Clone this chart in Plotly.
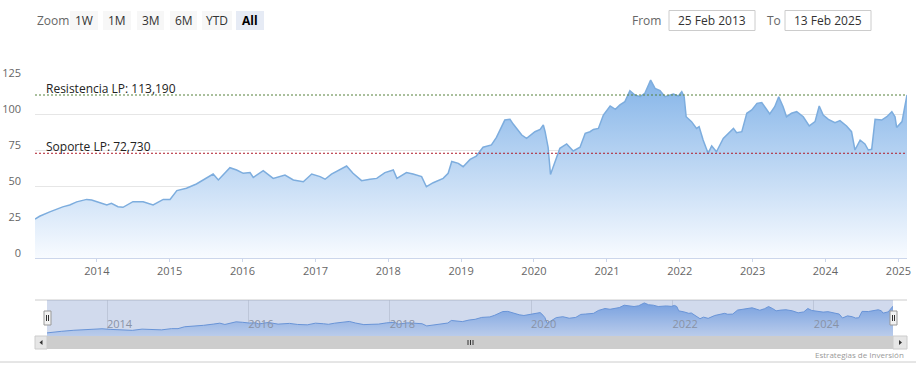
import plotly.graph_objects as go

W, H = 916, 375

# ---------------- data ----------------
dates = [
    "2013-02-25", "2013-03-20", "2013-05-10", "2013-07-14", "2013-08-18", "2013-09-22",
    "2013-11-11", "2013-12-06", "2014-01-17", "2014-02-20", "2014-03-15", "2014-04-17",
    "2014-05-12", "2014-07-01", "2014-08-21", "2014-10-10", "2014-11-30", "2015-01-03",
    "2015-02-06", "2015-03-26", "2015-05-15", "2015-07-04", "2015-08-07", "2015-09-02",
    "2015-09-27", "2015-10-30", "2015-12-03", "2016-01-05", "2016-02-08", "2016-02-24",
    "2016-04-14", "2016-06-03", "2016-08-01", "2016-09-12", "2016-11-01", "2016-12-13",
    "2017-01-24", "2017-02-18", "2017-03-22", "2017-05-03", "2017-06-06", "2017-07-08",
    "2017-08-20", "2017-10-01", "2017-11-04", "2017-12-15", "2018-01-26", "2018-02-13",
    "2018-04-02", "2018-05-05", "2018-06-17", "2018-07-11", "2018-08-14", "2018-10-03",
    "2018-10-28", "2018-11-15", "2018-12-18", "2019-01-11", "2019-02-15", "2019-03-18",
    "2019-04-21", "2019-06-02", "2019-06-27", "2019-08-08", "2019-09-03", "2019-09-19",
    "2019-11-01", "2019-11-25", "2020-01-06", "2020-02-01", "2020-02-17", "2020-02-26",
    "2020-03-12", "2020-03-24", "2020-04-15", "2020-05-10", "2020-06-13", "2020-07-16",
    "2020-08-19", "2020-09-14", "2020-10-08", "2020-10-25", "2020-11-19", "2020-12-14",
    "2021-01-17", "2021-02-12", "2021-03-07", "2021-04-01", "2021-04-26", "2021-05-21",
    "2021-06-16", "2021-07-10", "2021-08-08", "2021-08-30", "2021-09-24", "2021-10-19",
    "2021-11-30", "2021-12-25", "2022-01-11", "2022-01-23", "2022-02-02", "2022-03-01",
    "2022-03-26", "2022-04-08", "2022-04-28", "2022-05-23", "2022-06-10", "2022-07-04",
    "2022-08-07", "2022-09-02", "2022-09-27", "2022-10-13", "2022-11-08", "2022-12-03",
    "2022-12-28", "2023-01-23", "2023-02-16", "2023-03-08", "2023-03-28", "2023-04-22",
    "2023-05-12", "2023-06-03", "2023-06-20", "2023-07-15", "2023-08-10", "2023-09-12",
    "2023-10-12", "2023-11-10", "2023-12-01", "2023-12-21", "2024-01-16", "2024-02-18",
    "2024-03-14", "2024-04-16", "2024-05-11", "2024-05-28", "2024-06-23", "2024-07-17",
    "2024-08-03", "2024-08-20", "2024-09-06", "2024-10-09", "2024-11-04", "2024-11-29",
    "2024-12-15", "2024-12-23", "2025-01-19", "2025-02-13",
]
values = [
    27.0, 29.0, 32.0, 35.5, 36.8, 39.0,
    40.7, 40.3, 38.4, 36.8, 38.0, 35.6,
    35.2, 39.1, 39.1, 36.8, 40.7, 40.7,
    46.8, 48.4, 51.4, 55.3, 58.3, 54.2,
    57.6, 62.7, 61.1, 58.8, 59.3, 56.0,
    60.6, 55.3, 57.6, 54.2, 53.0, 58.3,
    56.5, 54.7, 58.3, 61.1, 63.9, 58.8,
    53.7, 54.7, 55.3, 59.3, 61.1, 55.3,
    59.3, 58.3, 56.5, 49.5, 52.3, 55.3,
    58.8, 67.0, 65.7, 63.4, 68.5, 70.8,
    76.9, 78.5, 83.8, 95.8, 96.3, 93.0,
    85.4, 83.1, 87.7, 89.3, 92.4, 87.7,
    76.9, 58.0, 66.9, 76.2, 79.2, 74.3,
    76.9, 86.6, 87.7, 89.3, 90.0, 99.3,
    105.6, 103.2, 106.3, 108.6, 116.2, 113.2,
    112.0, 114.4, 123.6, 117.8, 116.2, 112.0,
    113.9, 112.5, 115.5, 112.0, 98.1, 94.7,
    90.0, 91.2, 81.9, 72.7, 77.8, 73.8,
    83.1, 86.6, 90.0, 87.0, 87.7, 100.5,
    102.8, 107.4, 107.9, 104.0, 100.0, 105.1,
    112.0, 105.1, 98.1, 100.5, 101.6, 98.1,
    91.7, 94.7, 105.6, 99.3, 96.3, 94.0,
    95.4, 91.7, 87.7, 75.0, 81.9, 79.2,
    75.0, 75.5, 96.3, 95.8, 98.1, 101.6,
    98.1, 90.7, 94.7, 113.19,
]

resistance = 113.19
support = 72.73
resistance_label = "Resistencia LP: 113,190"
support_label = "Soporte LP: 72,730"
y_ticks = [0, 25, 50, 75, 100, 125]
zoom_buttons = ["1W", "1M", "3M", "6M", "YTD", "All"]
selected_button = "All"
from_text = "25 Feb 2013"
to_text = "13 Feb 2025"
credit_text = "Estrategias de Inversión"

FONT = "Open Sans, Noto Sans, sans-serif"


def px(x):
    return x / W


def py(y):
    return 1 - y / H


fig = go.Figure()

# main area series
fig.add_trace(go.Scatter(
    x=dates, y=values, mode="lines",
    line=dict(color="#7dadde", width=1.5),
    fill="tozeroy",
    fillgradient=dict(type="vertical",
                      colorscale=[[0, "rgb(248,251,255)"], [1, "rgb(132,180,232)"]],
                      start=0, stop=125),
    xaxis="x", yaxis="y", hoverinfo="skip", showlegend=False,
))

# support / resistance lines
fig.add_trace(go.Scatter(
    x=[dates[0], dates[-1]], y=[resistance, resistance], mode="lines",
    line=dict(color="#55803a", width=1, dash="2px,2px"),
    xaxis="x", yaxis="y", hoverinfo="skip", showlegend=False,
))
fig.add_trace(go.Scatter(
    x=[dates[0], dates[-1]], y=[support, support], mode="lines",
    line=dict(color="#b01c2a", width=1, dash="2px,2px"),
    xaxis="x", yaxis="y", hoverinfo="skip", showlegend=False,
))

# navigator series
fig.add_trace(go.Scatter(
    x=dates, y=values, mode="lines",
    line=dict(color="#6a9be0", width=1),
    fill="tozeroy",
    fillgradient=dict(type="vertical",
                      colorscale=[[0, "rgb(222,235,252)"], [1, "rgb(126,172,236)"]],
                      start=17, stop=125),
    xaxis="x2", yaxis="y2", hoverinfo="skip", showlegend=False,
))

shapes = []
annotations = []

# navigator top outline
shapes.append(dict(type="line", xref="paper", yref="paper",
                   x0=px(35), x1=px(907), y0=py(300), y1=py(300),
                   line=dict(color="#cccccc", width=1)))
# navigator mask over selected range
shapes.append(dict(type="rect", xref="paper", yref="paper", layer="above",
                   x0=px(47), x1=px(893), y0=py(336), y1=py(300),
                   fillcolor="rgba(102,133,194,0.3)", line=dict(width=0)))
# scrollbar
shapes.append(dict(type="rect", xref="paper", yref="paper",
                   x0=px(35), x1=px(907), y0=py(349), y1=py(336),
                   fillcolor="#cdcdcd", line=dict(width=0)))
for (a, b) in [(35, 47), (893, 907)]:
    shapes.append(dict(type="rect", xref="paper", yref="paper",
                       x0=px(a), x1=px(b), y0=py(349), y1=py(336),
                       fillcolor="#e6e6e6", line=dict(color="#cccccc", width=1)))
# scrollbar arrows
shapes.append(dict(type="path", xref="paper", yref="paper",
                   path=f"M {px(39.5)} {py(342.5)} L {px(42.5)} {py(340)} L {px(42.5)} {py(345)} Z",
                   fillcolor="#333333", line=dict(width=0)))
shapes.append(dict(type="path", xref="paper", yref="paper",
                   path=f"M {px(902)} {py(342.5)} L {px(899)} {py(340)} L {px(899)} {py(345)} Z",
                   fillcolor="#333333", line=dict(width=0)))
# scrollbar grip
for gx in (468, 470.5, 473):
    shapes.append(dict(type="line", xref="paper", yref="paper",
                       x0=px(gx), x1=px(gx), y0=py(340), y1=py(345),
                       line=dict(color="#333333", width=1)))
# navigator handles
for hx in (44, 890):
    shapes.append(dict(type="rect", xref="paper", yref="paper", layer="above",
                       x0=px(hx), x1=px(hx + 7), y0=py(325), y1=py(311),
                       fillcolor="#f2f2f2", line=dict(color="#999999", width=1)))
    for lx in (hx + 2.5, hx + 4.5):
        shapes.append(dict(type="line", xref="paper", yref="paper", layer="above",
                           x0=px(lx), x1=px(lx), y0=py(315), y1=py(321),
                           line=dict(color="#333333", width=1)))
# bottom separator
shapes.append(dict(type="line", xref="paper", yref="paper",
                   x0=0, x1=1, y0=py(362), y1=py(362),
                   line=dict(color="#cccccc", width=1)))

# range selector buttons
btn_pos = [(70, 98), (103, 131), (137, 164), (170, 197), (202, 232), (236, 264)]
annotations.append(dict(text="Zoom", xref="paper", yref="paper", x=px(35), y=py(20),
                        xanchor="left", yanchor="middle", showarrow=False,
                        font=dict(family=FONT, size=12, color="#666666")))
for lab, (a, b) in zip(zoom_buttons, btn_pos):
    sel = lab == selected_button
    shapes.append(dict(type="rect", xref="paper", yref="paper",
                       x0=px(a), x1=px(b), y0=py(30), y1=py(11),
                       fillcolor="#e6ebf5" if sel else "#f7f7f7", line=dict(width=0)))
    annotations.append(dict(text=f"<b>{lab}</b>" if sel else lab,
                            xref="paper", yref="paper", x=px((a + b) / 2), y=py(20),
                            xanchor="center", yanchor="middle", showarrow=False,
                            font=dict(family=FONT, size=12, color="#000000" if sel else "#333333")))

# date inputs
annotations.append(dict(text="From", xref="paper", yref="paper", x=px(663), y=py(20),
                        xanchor="right", yanchor="middle", showarrow=False,
                        font=dict(family=FONT, size=12, color="#666666")))
annotations.append(dict(text="To", xref="paper", yref="paper", x=px(765), y=py(20),
                        xanchor="left", yanchor="middle", showarrow=False,
                        font=dict(family=FONT, size=12, color="#666666")))
for txt, (a, b) in [(from_text, (669, 755)), (to_text, (785, 871))]:
    shapes.append(dict(type="rect", xref="paper", yref="paper",
                       x0=px(a), x1=px(b), y0=py(30.5), y1=py(10.5),
                       fillcolor="white", line=dict(color="#cccccc", width=1)))
    annotations.append(dict(text=txt, xref="paper", yref="paper", x=px((a + b) / 2), y=py(20),
                            xanchor="center", yanchor="middle", showarrow=False,
                            font=dict(family=FONT, size=12, color="#333333")))

# line labels
annotations.append(dict(text=resistance_label, xref="paper", yref="y", x=px(44), y=resistance,
                        xanchor="left", yanchor="middle", yshift=7, showarrow=False,
                        font=dict(family=FONT, size=12, color="#222222")))
annotations.append(dict(text=support_label, xref="paper", yref="y", x=px(44), y=support,
                        xanchor="left", yanchor="middle", yshift=7, showarrow=False,
                        font=dict(family=FONT, size=12, color="#222222")))

# credits
annotations.append(dict(text=credit_text, xref="paper", yref="paper", x=px(906), y=py(354),
                        xanchor="right", yanchor="middle", showarrow=False,
                        font=dict(family=FONT, size=8, color="#999999")))

fig.update_layout(
    template="none",
    width=W, height=H,
    margin=dict(l=0, r=0, t=0, b=0, autoexpand=False),
    paper_bgcolor="white", plot_bgcolor="white",
    font=dict(family=FONT),
    showlegend=False,
    shapes=shapes, annotations=annotations,
    xaxis=dict(domain=[px(35), px(907)], range=[dates[0], dates[-1]], type="date",
               anchor="y", showgrid=False, zeroline=False, automargin=False,
               showline=True, linecolor="#ccd6eb", linewidth=1,
               ticks="outside", ticklen=3, tickcolor="#ccd6eb",
               tick0="2014-01-01", dtick="M12", tickformat="%Y",
               tickfont=dict(family=FONT, size=11, color="#666666"),
               fixedrange=True),
    yaxis=dict(domain=[py(258), py(78)], range=[0, 125], anchor="x",
               tickvals=y_ticks, showgrid=True, gridcolor="#e6e6e6", gridwidth=1,
               zeroline=False, showline=False, ticks="", automargin=False,
               ticklabelstandoff=13, ticklabelshift=-5,
               tickfont=dict(family=FONT, size=11, color="#666666"),
               fixedrange=True),
    xaxis2=dict(domain=[px(47), px(893)], range=[dates[0], dates[-1]], type="date",
                anchor="y2", showgrid=True, gridcolor="#e3e3e3", zeroline=False,
                showline=False, ticks="", automargin=False,
                tick0="2014-01-01", dtick="M24", tickformat="%Y",
                ticklabelposition="inside right",
                tickfont=dict(family=FONT, size=11, color="#999999"),
                fixedrange=True),
    yaxis2=dict(domain=[py(336), py(300)], range=[17, 133], anchor="x2",
                visible=False, fixedrange=True, automargin=False),
)

fig.write_html("out.html")
